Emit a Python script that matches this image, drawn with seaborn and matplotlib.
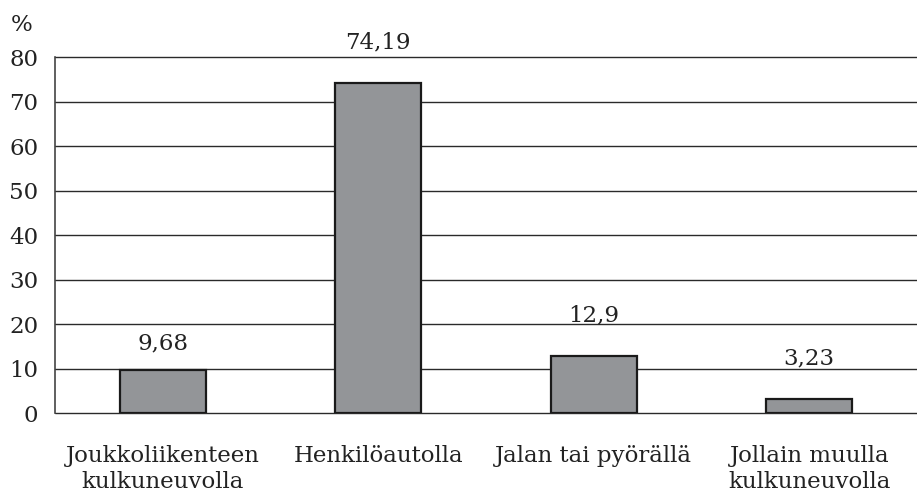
import matplotlib
matplotlib.use("Agg")
import matplotlib.pyplot as plt
import seaborn as sns
import pandas as pd
import numpy as np

categories = ["Joukkoliikenteen\nkulkuneuvolla", "Henkilöautolla", "Jalan tai pyörällä", "Jollain muulla\nkulkuneuvolla"]
values = [9.68, 74.19, 12.9, 3.23]
value_labels = ["9,68", "74,19", "12,9", "3,23"]
y_ticks = [0, 10, 20, 30, 40, 50, 60, 70, 80]

sns.set_style("white")
plt.rcParams['font.family'] = ['DejaVu Serif']

fig = plt.figure(figsize=(9.17, 4.97), dpi=100)
ax = fig.add_axes([0.060, 0.169, 0.940, 0.716])

df = pd.DataFrame({"cat": categories, "val": values})
sns.barplot(data=df, x="cat", y="val", ax=ax, color="#939598", width=0.4,
            edgecolor="#1a1a1a", linewidth=1.6, saturation=1, zorder=3)

ax.set_ylim(0, 80)
ax.set_xlim(-0.5, len(categories) - 0.5)
ax.set_yticks(y_ticks)
ax.set_yticklabels([str(t) for t in y_ticks], fontsize=16.5, color="#222222")
for t in y_ticks:
    ax.axhline(t, color="#2a2a2a", lw=1.0, zorder=1, clip_on=False)

ax.set_xticks(range(len(categories)))
ax.set_xticklabels(categories, fontsize=16.5, linespacing=1.25, color="#222222")
ax.tick_params(axis="x", length=0, pad=23)
ax.set_xticks(np.arange(-0.5, len(categories), 1.0), minor=True)
ax.tick_params(axis="x", which="minor", length=6, width=1.2, color="#444444", direction="out")
ax.tick_params(axis="y", length=7, width=1.2, color="#444444", direction="out", pad=5)

ax.set_xlabel("")
ax.set_ylabel("")
for s in ["top", "right"]:
    ax.spines[s].set_visible(False)
ax.spines["bottom"].set_visible(False)
ax.spines["left"].set_color("#444444")
ax.spines["left"].set_linewidth(1.2)

pads = [11, 21, 21, 21]
for i, (v, lab) in enumerate(zip(values, value_labels)):
    ax.annotate(lab, (i, v), xytext=(0, pads[i]), textcoords="offset points",
                ha="center", va="bottom", fontsize=16.5, color="#222222")

fig.text(0.012, 0.950, "%", fontsize=16.5, ha="left", va="center", color="#222222")

fig.savefig("out.png", dpi=100)
